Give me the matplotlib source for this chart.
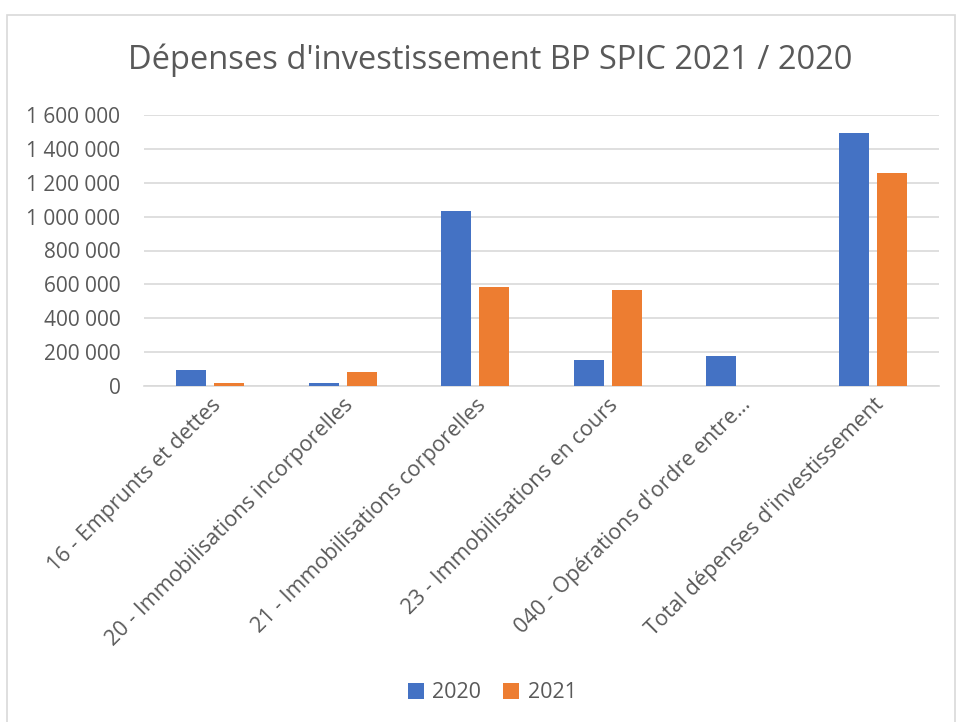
import matplotlib
matplotlib.use("Agg")
import matplotlib.pyplot as plt
from matplotlib.patches import Rectangle
from matplotlib.ticker import FuncFormatter, MultipleLocator
import numpy as np

categories = ["16 - Emprunts et dettes",
              "20 - Immobilisations incorporelles",
              "21 - Immobilisations corporelles",
              "23 - Immobilisations en cours",
              "040 - Opérations d'ordre entre…",
              "Total dépenses d'investissement"]
series_names = ["2020", "2021"]
values_2020 = [97000, 16000, 1036000, 155000, 177000, 1496000]
values_2021 = [20000, 81000, 583000, 564000, 0, 1258000]
title = "Dépenses d'investissement BP SPIC 2021 / 2020"

BLUE = "#4472C4"
ORANGE = "#ED7D31"
GREY = "#595959"
FONT = ["Open Sans", "DejaVu Sans"]
plt.rcParams["font.family"] = FONT

fig = plt.figure(figsize=(9.56, 7.22), dpi=100)
# chart frame
fig.patches.append(Rectangle((7/956, -0.01), 948/956, 1 - 15/722 + 0.01,
                             transform=fig.transFigure, fill=False,
                             edgecolor="#D9D9D9", linewidth=1.2))

ax = fig.add_axes([144/956, 1 - 386/722, (939-144)/956, (386-115)/722])
x = np.arange(len(categories))
w = 0.226
off = 0.143
ax.bar(x - off, values_2020, w, color=BLUE, label=series_names[0], zorder=3)
ax.bar(x + off, values_2021, w, color=ORANGE, label=series_names[1], zorder=3)

ax.set_xlim(-0.5, len(categories) - 0.5)
ax.set_ylim(0, 1600000)
ax.yaxis.set_major_locator(MultipleLocator(200000))
ax.yaxis.set_major_formatter(FuncFormatter(lambda v, p: f"{int(v):,}".replace(",", " ")))
ax.grid(axis="y", color="#D9D9D9", linewidth=1.2, zorder=0)
for s in ["top", "right", "left"]:
    ax.spines[s].set_visible(False)
ax.spines["bottom"].set_color("#D9D9D9")
ax.spines["bottom"].set_linewidth(1.2)
ax.tick_params(axis="both", length=0, colors=GREY)
ax.tick_params(axis="y", pad=17, labelsize=15)
ax.set_xticks(x)
ax.set_xticklabels(categories, rotation=45, ha="right", rotation_mode="anchor", color=GREY)
ax.tick_params(axis="x", pad=6, labelsize=15.5)

fig.text(490/956, 1 - 60/722, title, ha="center", va="center", fontsize=23.5, color=GREY)

leg = fig.legend(loc="center", bbox_to_anchor=(492/956, 1 - 693/722), ncol=2, frameon=False,
                 fontsize=15.5, handlelength=0.75, handleheight=0.75, columnspacing=1.0,
                 handletextpad=0.4, labelcolor=GREY)

fig.savefig("out.png", dpi=100, facecolor="white")
